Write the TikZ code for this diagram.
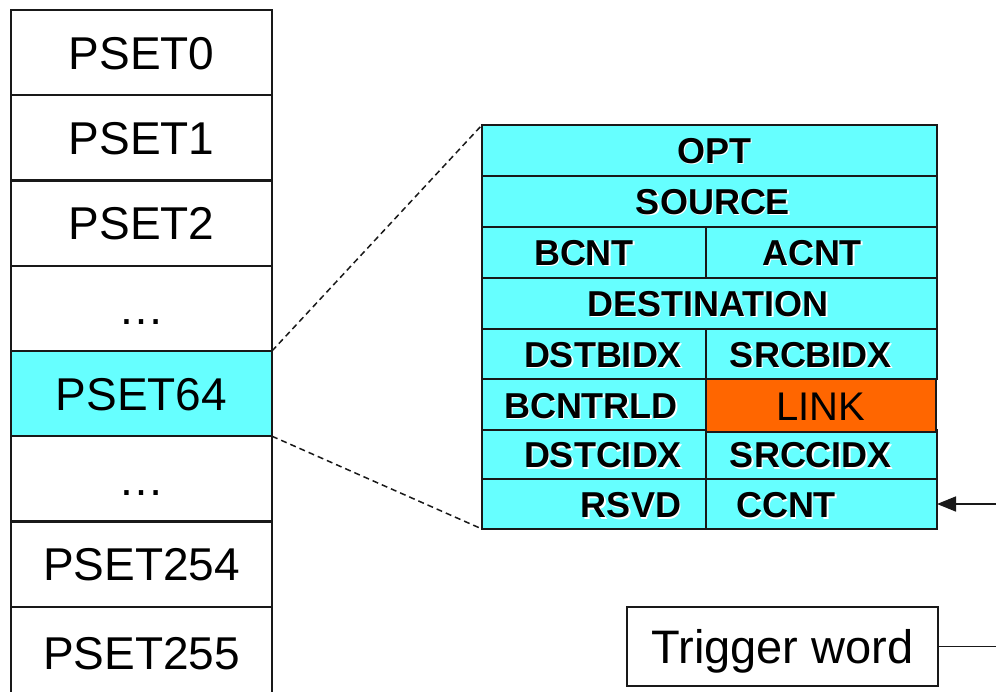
\documentclass[tikz,border=0pt]{standalone}
\usepackage{fontspec}
\setmainfont{Liberation Sans}
\usetikzlibrary{arrows.meta}

\definecolor{paramcyan}{RGB}{102,255,255}
\definecolor{linkorange}{RGB}{255,102,0}
\definecolor{edge}{RGB}{25,25,25}

% one field of the parameter set: name, x1, y1, x2, y2 (y grows downwards)
\newcommand\fieldbox[6][paramcyan]{%
  \node[field, fill=#1, minimum width={#5pt-#3pt}, minimum height={#6pt-#4pt}]
    (#2) at ({(#3+#5)/2},{(#4+#6)/2}) {};}
% bold field label with its light drop shadow
\newcommand\fieldlabel[4]{%
  \node[fieldtext, text=white, xshift=1.6pt, yshift=-1.6pt] at (#2,#3) {#4};
  \node[fieldtext] (#1) at (#2,#3) {#4};}

\begin{document}
\begin{tikzpicture}[x=1pt, y=-1pt,
  psetbox/.style={draw=edge, line width=2.2pt, fill=white, inner sep=0pt, outer sep=0pt,
    minimum width=261pt, minimum height=85.25pt,
    font=\fontsize{46}{50}\selectfont, text height=33pt, text depth=0pt},
  field/.style={draw=edge, line width=2.2pt, inner sep=0pt, outer sep=0pt},
  fieldtext/.style={inner sep=0pt, font=\fontsize{36}{40}\selectfont\bfseries,
    text height=25.8pt, text depth=0pt},
  linktext/.style={inner sep=0pt, font=\fontsize{40}{44}\selectfont,
    text height=28.6pt, text depth=0pt},
  zoomline/.style={dashed, dash pattern=on 6pt off 4pt, line width=1.5pt, draw=edge},
  wire/.style={line width=1.6pt, draw=edge}]

\useasboundingbox (0,0) rectangle (996,692);
\fill[white] (0,0) rectangle (996,692);

% parameter RAM column
\node[psetbox] (p0)   at (141.5, 52.6)  {PSET0};
\node[psetbox] (p1)   at (141.5, 137.9) {PSET1};
\node[psetbox] (p2)   at (141.5, 223.1) {PSET2};
\node[psetbox] (pd1)  at (141.5, 308.4) {\ldots};
\node[psetbox, fill=paramcyan] (p64) at (141.5, 393.6) {PSET64};
\node[psetbox] (pd2)  at (141.5, 478.9) {\ldots};
\node[psetbox] (p254) at (141.5, 564.1) {PSET254};
\node[psetbox, minimum height=90pt, text height=35.4pt] (p255) at (141.5, 651.75) {PSET255};

% expanded parameter set
\fieldbox{fopt}{482}{125}{937}{176}
\fieldbox{fsrc}{482}{176}{937}{227}
\fieldbox{fbcnt}{482}{227}{706}{278}
\fieldbox{facnt}{706}{227}{937}{278}
\fieldbox{fdst}{482}{278}{937}{329}
\fieldbox{fdbidx}{482}{329}{706}{379}
\fieldbox{fsbidx}{706}{329}{937}{379}
\fieldbox{fbrld}{482}{379}{706}{430}
\fieldbox{fdcidx}{482}{430}{706}{479}
\fieldbox{fscidx}{706}{430}{937}{479}
\fieldbox{frsvd}{482}{479}{706}{529}
\fieldbox{fccnt}{706}{479}{937}{529}
\fieldbox[linkorange]{flink}{706}{379}{936}{432}

\fieldlabel{lopt}{714}{150.5}{OPT}
\fieldlabel{lsrc}{713}{201.5}{SOURCE}
\fieldlabel{lbcnt}{584}{252.5}{BCNT}
\fieldlabel{lacnt}{812}{252.5}{ACNT}
\fieldlabel{ldst}{708}{303.5}{DESTINATION}
\fieldlabel{ldbidx}{603}{354.5}{DSTBIDX}
\fieldlabel{lsbidx}{811}{354.5}{SRCBIDX}
\fieldlabel{lbrld}{591}{405.5}{BCNTRLD}
\fieldlabel{ldcidx}{603}{455}{DSTCIDX}
\fieldlabel{lscidx}{811}{455}{SRCCIDX}
\fieldlabel{lrsvd}{631}{504.5}{RSVD}
\fieldlabel{lccnt}{786}{504.5}{CCNT}
\node[linktext] (llink) at (821,406) {LINK};

% zoom guides from PSET64 to the expanded set
\draw[zoomline] (p64.north east) -- (fopt.north west);
\draw[zoomline] (p64.south east) -- (frsvd.south west);

% trigger word and incoming arrow
\node[draw=edge, line width=2.2pt, inner sep=0pt, minimum width=311pt, minimum height=79pt,
  font=\fontsize{47}{51}\selectfont, text height=33.6pt, text depth=0pt]
  (trig) at (782.5,646.5) {Trigger word};
\coordinate (trigout) at (996,646.5);
\draw[wire] (trig.east) -- (trigout);

\coordinate (ccntin) at (996,504);
\draw[wire, -{Triangle[length=19pt, width=15pt]}] (ccntin) -- (fccnt.east);
\end{tikzpicture}
\end{document}
